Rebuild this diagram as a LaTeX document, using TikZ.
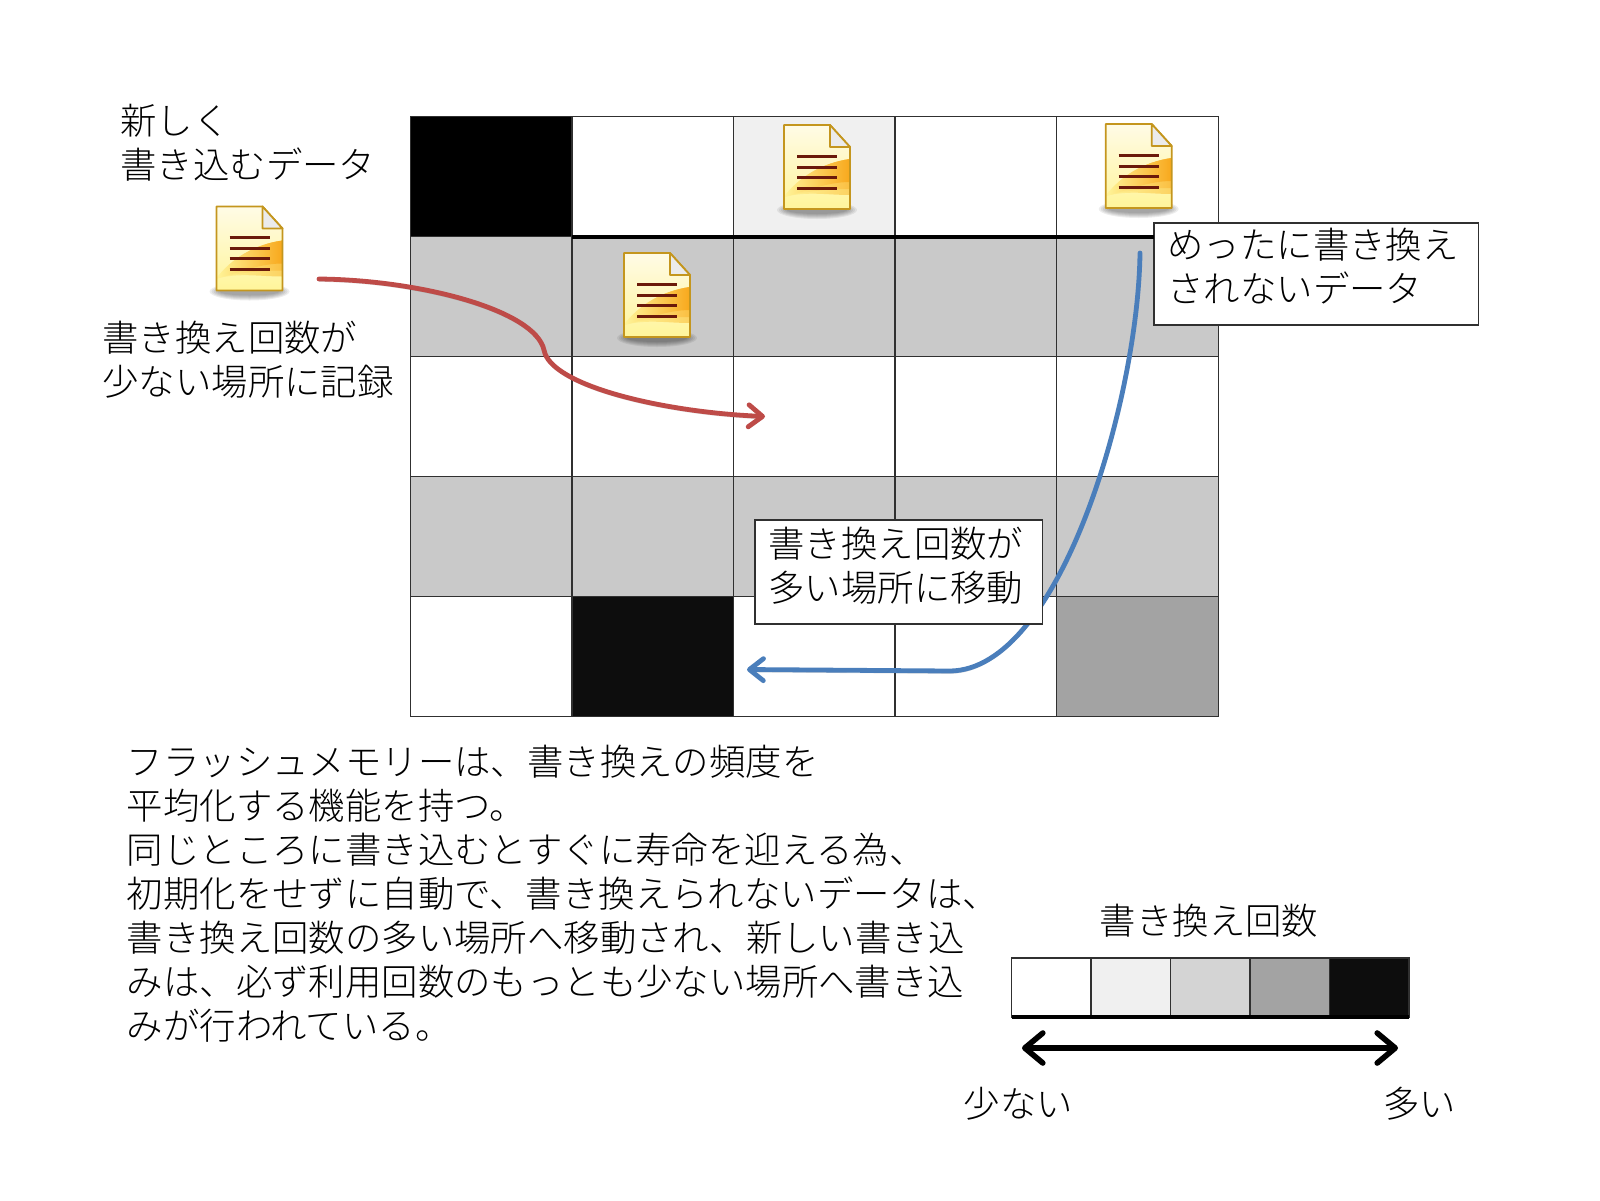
\documentclass[tikz,border=0pt]{standalone}
\usepackage{fontspec}
\setmainfont{Noto Sans CJK JP Light}
\usetikzlibrary{arrows.meta,positioning}
\definecolor{gridline}{HTML}{303030}
\definecolor{cellgray}{HTML}{C9C9C9}
\definecolor{redline}{HTML}{BE4B48}
\definecolor{blueline}{HTML}{4A7EBB}
\definecolor{docedge}{HTML}{C4961E}
\definecolor{docline}{HTML}{6B1A0A}
\definecolor{docorange}{HTML}{F8A81C}
\definecolor{docyellow}{HTML}{FFF59A}
\definecolor{doccream}{HTML}{FFFBE6}
\tikzset{
    cell/.style={rectangle, draw=gridline, line width=0.7pt, minimum width=80.8pt, minimum height=60pt, outer sep=0pt},
    keycell/.style={rectangle, draw=gridline, line width=0.7pt, minimum width=39.75pt, minimum height=29.6pt, outer sep=0pt},
    label/.style={anchor=west, inner sep=0pt, align=left, font=\fontsize{18.2}{22}\selectfont},
    textbox/.style={rectangle, draw=gridline, line width=0.6pt, fill=white, outer sep=0pt},
    softshadow/.style={preaction={draw=black, opacity=0.14, transform canvas={yshift=-1.2pt}}},
    mover/.style={line width=2.4pt, line cap=round, softshadow, -{Straight Barb[length=7pt,width=11pt,round]}},
    docicon/.pic={
        % shadow
        \foreach \w/\h in {40/9,38/8,36/7,34/6,32/5,30/4}
            \fill[black, opacity=0.07] (0,43) ellipse[x radius=\w, y radius=\h];
        % page
        \shade[top color=doccream, bottom color=docyellow] (-33,-42) -- (13,-42) -- (33,-20) -- (33,42) -- (-33,42) -- cycle;
        % swoosh
        \foreach \low/\mix in {28/45,22/70,15/100}
            \shade[left color=docyellow, right color=docorange!\mix!docyellow]
                (33,-8) .. controls (5,-4) and (-18,10) .. (-33,30) .. controls (-10,24) and (10,\low) .. (33,\low) -- cycle;
        \draw[docedge, line width=0.9pt, line join=round] (-33,-42) -- (13,-42) -- (33,-20) -- (33,42) -- (-33,42) -- cycle;
        \draw[docedge, line width=0.9pt, line join=round, fill=black!8] (13,-42) -- (13,-20) -- (33,-20) -- cycle;
        % lines
        \foreach \y in {-11,0,10,21}
            \draw[docline, line width=1.5pt] (-20,\y) -- (20,\y);
    }
}
\begin{document}
\begin{tikzpicture}[x=0.5pt, y=-0.5pt]
    \useasboundingbox (0,0) rectangle (1600,1200);

    % cells
    \foreach \row in {0,...,4}
        \foreach \col in {0,...,4}
            \node[cell] (c\col\row) at ({491+161.6*\col},{176.7+120*\row}) {};
    \foreach \col/\row/\tone in {0/0/black, 2/0/black!6, 1/4/black!95, 4/4/black!36,
        0/1/cellgray, 1/1/cellgray, 2/1/cellgray, 3/1/cellgray, 4/1/cellgray,
        0/3/cellgray, 1/3/cellgray, 2/3/cellgray, 3/3/cellgray, 4/3/cellgray}
        \node[cell, fill=\tone] at (c\col\row) {};

    % documents
    \pic (newdoc) at (249.5,248.5) {docicon};
    \pic (doca) at (817,167) {docicon};
    \pic (docb) at (1138.7,166) {docicon};
    \pic (docc) at (657,295) {docicon};

    % arrow ends
    \coordinate (redstart) at (319,279);
    \coordinate (redmid) at (544,350);
    \coordinate (redend) at (765,416.5);
    \coordinate (bluestart) at (1140,253);
    \coordinate (bluemid) at (950,671);
    \coordinate (blueend) at (747,669.5);
    \coordinate (rulestart) at (c10.south west);

    % boxes
    \node[textbox, minimum width=324.5*0.5pt, minimum height=51pt, anchor=north west] (rarebox) at (1154,223) {};
    \draw[line width=2pt] (rulestart) -- (rulestart -| rarebox.west);
    \draw[mover, redline] (redstart) .. controls (420,280) and (535,310) .. (redmid)
        .. controls (550,385) and (660,412) .. (redend);
    \draw[mover, blueline] (bluestart) .. controls (1138,400) and (1060,670) .. (bluemid) -- (blueend);
    \node[textbox, minimum width=143.8pt, minimum height=52pt, anchor=north west] (manybox) at (755,520) {};

    % labels
    \node[label] (newlabel) at (120,142.5) {新しく\\書き込むデータ};
    \node[label] (fewlabel) at (102,360) {書き換え回数が\\少ない場所に記録};
    \node[label] (raretext) at (1167,266.5) {めったに書き換え\\されないデータ};
    \node[label] (manytext) at (768,566) {書き換え回数が\\多い場所に移動};
    \node[label] (bodytext) at (126.5,894) {フラッシュメモリーは、書き換えの頻度を\\
        平均化する機能を持つ。\\
        同じところに書き込むとすぐに寿命を迎える為、\\
        初期化をせずに自動で、書き換えられないデータは、\\
        書き換え回数の多い場所へ移動され、新しい書き込\\
        みは、必ず利用回数のもっとも少ない場所へ書き込\\
        みが行われている。};

    % key
    \node[label, anchor=center] (keytitle) at (1209,921) {書き換え回数};
    \foreach \n/\tone in {0/white, 1/black!6, 2/black!17, 3/black!36, 4/black!95}
        \node[keycell, fill=\tone] (k\n) at ({1051.3+79.5*\n},987.5) {};
    \draw[line width=1.8pt] (k0.south west) -- (k4.south east);
    \node[label, anchor=center] (fewer) at (1018.5,1104) {少ない};
    \node[label, anchor=center] (more) at (1419.5,1104) {多い};
    \coordinate (keyleft) at (1022,1048);
    \coordinate (keyright) at (1398,1048);
    \draw[line width=2.8pt, softshadow, {Straight Barb[length=9pt,width=15pt,round]}-{Straight Barb[length=9pt,width=15pt,round]}] (keyleft) -- (keyright);
\end{tikzpicture}
\end{document}
